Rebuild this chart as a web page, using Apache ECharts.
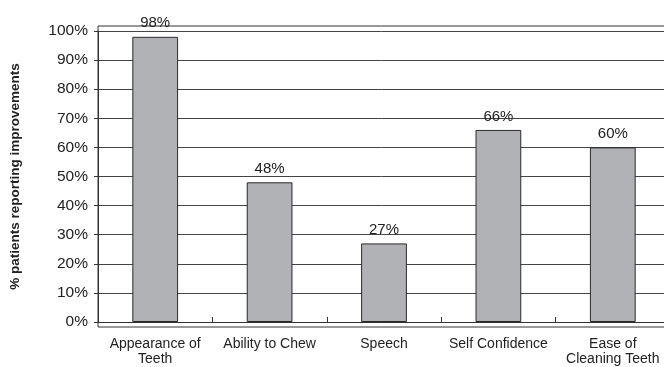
<!DOCTYPE html>
<html>
<head>
<meta charset="utf-8">
<style>
  html, body { margin: 0; padding: 0; background: #fff; }
  #chart { width: 664px; height: 367px; }
</style>
<script src="https://cdn.jsdelivr.net/npm/echarts@6/dist/echarts.min.js"></script>
</head>
<body>
<div id="chart"></div>
<script>
// Share of patients reporting improvement, by area
const categories = ['Appearance of\nTeeth', 'Ability to Chew', 'Speech', 'Self Confidence', 'Ease of\nCleaning Teeth'];
const improvementPct = [98, 48, 27, 66, 60];
const yTicks = [0, 10, 20, 30, 40, 50, 60, 70, 80, 90, 100];

const FONT = '"Liberation Sans", Arial, Helvetica, sans-serif';
const chart = echarts.init(document.getElementById('chart'), null, { renderer: 'canvas' });

chart.setOption({
  animation: false,
  backgroundColor: '#ffffff',
  grid: [
    // data area (runs slightly past the right edge of the canvas)
    { left: 98, width: 572, top: 31, bottom: 45, outerBoundsMode: 'none', containLabel: false },
    // outer plot frame, slightly larger than the value range
    { left: 98, width: 572, top: 26, bottom: 40, outerBoundsMode: 'none', containLabel: false,
      show: true, borderColor: '#333', borderWidth: 1, backgroundColor: 'transparent' }
  ],
  xAxis: [
    {
      type: 'category',
      gridIndex: 0,
      data: categories,
      offset: 5,
      axisLine: { show: true, lineStyle: { color: '#333', width: 1 } },
      axisTick: { show: true, inside: true, length: 5, alignWithLabel: false, lineStyle: { color: '#333' } },
      axisLabel: { color: '#222', fontFamily: FONT, fontSize: 14, lineHeight: 15, margin: 10, interval: 0 },
      splitLine: { show: false }
    },
    { type: 'category', gridIndex: 1, show: false, data: categories }
  ],
  yAxis: [
    {
      type: 'value',
      gridIndex: 0,
      min: 0,
      max: 100,
      interval: 10,
      name: '% patients reporting improvements',
      nameLocation: 'middle',
      nameGap: 76,
      nameRotate: 90,
      nameTextStyle: { color: '#222', fontFamily: FONT, fontSize: 13.5, fontWeight: 'bold' },
      axisLine: { show: true, lineStyle: { color: '#333', width: 1 } },
      axisTick: { show: true, length: 4, lineStyle: { color: '#333' } },
      axisLabel: {
        color: '#222', fontFamily: FONT, fontSize: 15.5, margin: 10,
        formatter: v => (yTicks.indexOf(v) >= 0 ? v + '%' : '')
      },
      splitLine: { show: true, lineStyle: { color: '#444', width: 1 } }
    },
    { type: 'value', gridIndex: 1, show: false, min: 0, max: 100 }
  ],
  series: [
    {
      type: 'bar',
      xAxisIndex: 0,
      yAxisIndex: 0,
      data: improvementPct,
      barWidth: '40%',
      itemStyle: { color: '#b1b2b6', borderColor: '#2a2a2a', borderWidth: 1 },
      label: {
        show: true,
        position: 'top',
        distance: 6,
        color: '#222',
        fontFamily: FONT,
        fontSize: 15,
        formatter: p => p.value + '%'
      }
    }
  ]
});
</script>
</body>
</html>
